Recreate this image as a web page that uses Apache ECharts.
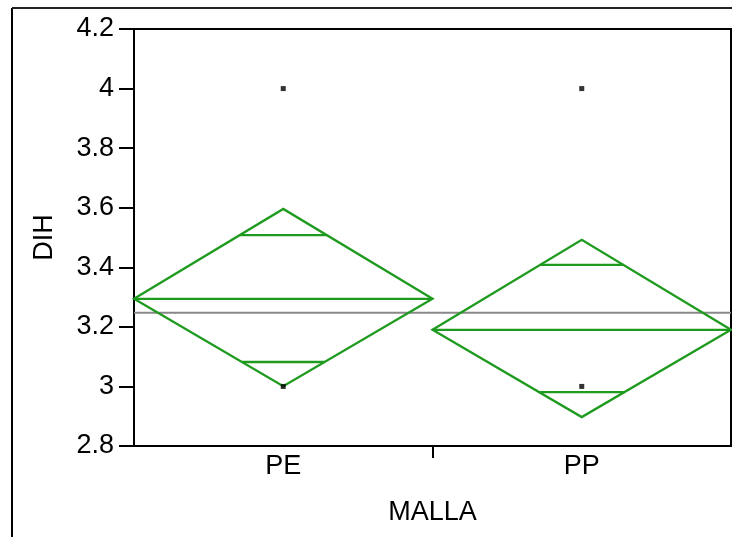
<!DOCTYPE html>
<html>
<head>
<meta charset="utf-8">
<script src="https://cdn.jsdelivr.net/npm/echarts@6/dist/echarts.min.js"></script>
<style>html,body{margin:0;padding:0;background:#fff;}#c{width:732px;height:537px;}</style>
</head>
<body>
<div id="c"></div>
<script>
// ---- data ----
var categories = ['PE', 'PP'];
var means = [3.294, 3.190];
var ciUpper = [3.596, 3.492];
var ciLower = [3.001, 2.897];
var overlapUpper = [3.508, 3.408];
var overlapLower = [3.082, 2.981];
var grandMean = 3.247;
var pointsPE = [4.0, 3.0];
var pointsPP = [4.0, 3.0];
var yTicks = [2.8, 3, 3.2, 3.4, 3.6, 3.8, 4, 4.2];

var pointSets = [pointsPE, pointsPP];
var green = '#1e9a1e';
var font = 'Liberation Sans, Arial, sans-serif';

var diamondData = categories.map(function (c, i) {
  return [i + 0.5, means[i], ciUpper[i], ciLower[i], overlapUpper[i], overlapLower[i]];
});
var scatterData = [];
pointSets.forEach(function (arr, i) {
  arr.forEach(function (v) { scatterData.push([i + 0.5, v]); });
});

function renderDiamond(params, api) {
  var x = api.value(0), m = api.value(1), up = api.value(2), lo = api.value(3),
      ou = api.value(4), ol = api.value(5);
  var c = api.coord([x, m]);
  var pUp = api.coord([x, up]);
  var pLo = api.coord([x, lo]);
  var pOu = api.coord([x, ou]);
  var pOl = api.coord([x, ol]);
  var hw = api.size([1, 0])[0] / 2;
  var dU = (up - ou) / (up - m) * hw;
  var dL = (ol - lo) / (m - lo) * hw;
  var st = { stroke: green, lineWidth: 2.3, fill: null };
  return {
    type: 'group',
    children: [
      { type: 'polygon', shape: { points: [[c[0] - hw, c[1]], [pUp[0], pUp[1]], [c[0] + hw, c[1]], [pLo[0], pLo[1]]] }, style: st },
      { type: 'line', shape: { x1: c[0] - hw, y1: c[1], x2: c[0] + hw, y2: c[1] }, style: st },
      { type: 'line', shape: { x1: pOu[0] - dU, y1: pOu[1], x2: pOu[0] + dU, y2: pOu[1] }, style: st },
      { type: 'line', shape: { x1: pOl[0] - dL, y1: pOl[1], x2: pOl[0] + dL, y2: pOl[1] }, style: st }
    ]
  };
}

var chart = echarts.init(document.getElementById('c'), null, { renderer: 'canvas' });
chart.setOption({
  animation: false,
  backgroundColor: '#fff',
  grid: { left: 134, top: 29, right: 1, bottom: 91, show: true, borderColor: '#000', borderWidth: 2, backgroundColor: 'transparent' },
  graphic: [
    { type: 'line', shape: { x1: 12, y1: 8, x2: 12, y2: 537 }, style: { stroke: '#000', lineWidth: 2 } },
    { type: 'line', shape: { x1: 12, y1: 8, x2: 732, y2: 8 }, style: { stroke: '#222', lineWidth: 2 } }
  ],
  xAxis: {
    type: 'value', min: 0, max: 2, interval: 1,
    name: 'MALLA', nameLocation: 'middle', nameGap: 53,
    nameTextStyle: { color: '#000', fontSize: 27, fontFamily: font },
    axisLine: { show: true, lineStyle: { color: '#000', width: 2 } },
    axisTick: { show: true, length: 12, lineStyle: { color: '#000', width: 2 }, customValues: [1] },
    axisLabel: {
      color: '#000', fontSize: 27, fontFamily: font, margin: 7,
      customValues: categories.map(function (c, i) { return i + 0.5; }),
      formatter: function (v) { return categories[Math.floor(v)]; }
    },
    splitLine: { show: false }
  },
  yAxis: {
    type: 'value', min: yTicks[0], max: yTicks[yTicks.length - 1], interval: 0.2,
    name: 'DIH', nameLocation: 'middle', nameGap: 76, nameRotate: 90,
    nameTextStyle: { color: '#000', fontSize: 27, fontFamily: font },
    axisLine: { show: true, lineStyle: { color: '#000', width: 2 } },
    axisTick: { show: true, length: 15, lineStyle: { color: '#000', width: 2 } },
    axisLabel: {
      color: '#000', fontSize: 27, fontFamily: font, margin: 20,
      formatter: function (v) { return String(Math.round(v * 10) / 10); }
    },
    splitLine: { show: false }
  },
  series: [
    {
      type: 'line', data: [[0, grandMean], [2, grandMean]], symbol: 'none',
      lineStyle: { color: '#888', width: 2 }, z: 1, silent: true
    },
    {
      type: 'custom', renderItem: renderDiamond, data: diamondData, z: 2, silent: true,
      encode: { x: 0, y: [1, 2, 3] }
    },
    {
      type: 'scatter', data: scatterData, symbol: 'rect', symbolSize: 5,
      itemStyle: { color: '#000' }, z: 3, silent: true
    }
  ]
});
</script>
</body>
</html>
